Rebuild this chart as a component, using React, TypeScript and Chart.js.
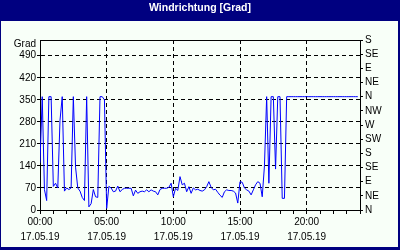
import React, { useEffect, useRef } from 'react';
import { Chart, registerables } from 'chart.js';

Chart.register(...registerables);

// ---- data ----
const chartTitle = 'Windrichtung [Grad]';
const dateLabel = '17.05.19';
const stepMinutes = 10; // one reading every 10 minutes, starting 00:00
const windDirection = [
  150, 360, 65, 30, 360, 360, 75, 85, 70, 285,
  360, 60, 70, 65, 70, 360, 136, 70, 60, 40,
  30, 360, 10, 20, 65, 42, 40, 360, 360, 350,
  5, 75, 70, 58, 60, 76, 58, 65, 69, 69,
  69, 69, 45, 63, 53, 58, 60, 58, 64, 58,
  64, 60, 58, 48, 65, 69, 69, 69, 72, 85,
  42, 69, 62, 106, 80, 85, 58, 74, 53, 70,
  64, 66, 62, 60, 64, 74, 90, 72, 64, 66,
  56, 47, 40, 58, 64, 62, 62, 60, 54, 22,
  90, 88, 70, 64, 60, 48, 64, 80, 90, 85,
  42, 140, 360, 85, 360, 360, 130, 360, 360, 37,
  37, 360, 360, 360, 360, 360, 360, 360, 360, 360,
  360, 360, 360, 360, 360, 360, 360, 360, 360, 360,
  360, 360, 360, 360, 360, 360, 360, 360, 360, 360,
  360, 360, 360, 360,
];
const xTickHours = [0, 5, 10, 15, 20];
const xTickLabels = ['00:00', '05:00', '10:00', '15:00', '20:00'];
const yTickValues = [0, 70, 140, 210, 280, 350, 420, 490];
const yUnitLabel = 'Grad';
const compassLabels = ['N', 'NE', 'E', 'SE', 'S', 'SW', 'W', 'NW', 'N', 'NE', 'E', 'SE', 'S'];

const FONT = 'Liberation Sans';
const NAVY = '#000080';
const PANEL = '#F8FFF8';

const backgroundPlugin = {
  id: 'panelBackground',
  beforeDraw(chart: any) {
    const { ctx, width, height } = chart;
    ctx.save();
    ctx.fillStyle = NAVY;
    ctx.fillRect(0, 0, width, height);
    ctx.fillStyle = PANEL;
    ctx.fillRect(1, 21, width - 3, height - 24);
    ctx.restore();
  },
  afterDraw(chart: any) {
    const { ctx, chartArea } = chart;
    ctx.save();
    ctx.strokeStyle = '#000';
    ctx.lineWidth = 1;
    ctx.beginPath();
    ctx.moveTo(chartArea.left, Math.round(chartArea.top) + 0.5);
    ctx.lineTo(chartArea.right + 1, Math.round(chartArea.top) + 0.5);
    ctx.stroke();
    ctx.restore();
  },
};

export default function App() {
  const canvasRef = useRef<HTMLCanvasElement | null>(null);

  useEffect(() => {
    if (!canvasRef.current) return;
    const points = windDirection.map((v, i) => ({ x: (i * stepMinutes) / 60, y: v }));
    const tickFont = { family: FONT, size: 10 };

    const chart = new Chart(canvasRef.current, {
      type: 'line',
      data: {
        datasets: [
          {
            data: points,
            borderColor: '#0000FF',
            borderWidth: 1,
            pointRadius: 0,
            tension: 0,
            fill: false,
            yAxisID: 'y',
          },
        ],
      },
      plugins: [backgroundPlugin],
      options: {
        animation: false,
        responsive: false,
        devicePixelRatio: 1,
        layout: { padding: 0 },
        plugins: {
          legend: { display: false },
          tooltip: { enabled: false },
          title: {
            display: true,
            text: chartTitle,
            color: '#FFFFFF',
            font: { family: FONT, size: 10.5, weight: 'bold' },
            padding: { top: 2, bottom: 25.4 },
          },
        },
        scales: {
          x: {
            type: 'linear',
            min: 0,
            max: 24,
            afterFit: (s: any) => {
              s.height = 40;
            },
            ticks: {
              stepSize: 1,
              autoSkip: false,
              maxRotation: 0,
              color: '#000',
              font: { ...tickFont, lineHeight: 1.5 },
              padding: 1,
              callback: (v: any) => {
                const idx = xTickHours.indexOf(Number(v));
                return idx >= 0 ? [xTickLabels[idx], dateLabel] : '';
              },
            },
            grid: {
              color: (c: any) =>
                c.tick && xTickHours.includes(c.tick.value) && c.tick.value !== 0 ? '#000' : 'rgba(0,0,0,0)',
              tickColor: '#000',
              tickLength: 4,
              lineWidth: 1,
            },
            border: { display: true, color: '#000', width: 1, dash: [4, 3] },
          },
          y: {
            type: 'linear',
            position: 'left',
            min: 0,
            max: 540,
            afterFit: (s: any) => {
              s.width = 40;
            },
            afterBuildTicks: (s: any) => {
              s.ticks = [...yTickValues, 525].map((v) => ({ value: v }));
            },
            ticks: {
              autoSkip: false,
              color: '#000',
              font: tickFont,
              padding: 1,
              callback: (v: any) => (yTickValues.includes(Number(v)) ? String(v) : yUnitLabel),
            },
            grid: {
              color: (c: any) =>
                c.tick && c.tick.value > 0 && yTickValues.includes(c.tick.value) ? '#000' : 'rgba(0,0,0,0)',
              tickColor: (c: any) =>
                c.tick && yTickValues.includes(c.tick.value) ? '#000' : 'rgba(0,0,0,0)',
              tickLength: 3,
              lineWidth: 1,
            },
            border: { display: true, color: '#000', width: 1, dash: [4, 3] },
          },
          y2: {
            type: 'linear',
            position: 'right',
            min: 0,
            max: 540,
            afterFit: (s: any) => {
              s.width = 40;
            },
            ticks: {
              stepSize: 45,
              autoSkip: false,
              color: '#000',
              font: tickFont,
              padding: 2,
              callback: (v: any) => compassLabels[Math.round(Number(v) / 45)] ?? '',
            },
            grid: {
              drawOnChartArea: false,
              color: '#000',
              tickColor: '#000',
              tickLength: 3,
            },
            border: { display: true, color: '#000', width: 1 },
          },
        },
      } as any,
    });

    return () => chart.destroy();
  }, []);

  return (
    <div style={{ position: 'fixed', left: 0, top: 0, width: 400, height: 250 }}>
      <canvas ref={canvasRef} width={400} height={250} />
    </div>
  );
}
